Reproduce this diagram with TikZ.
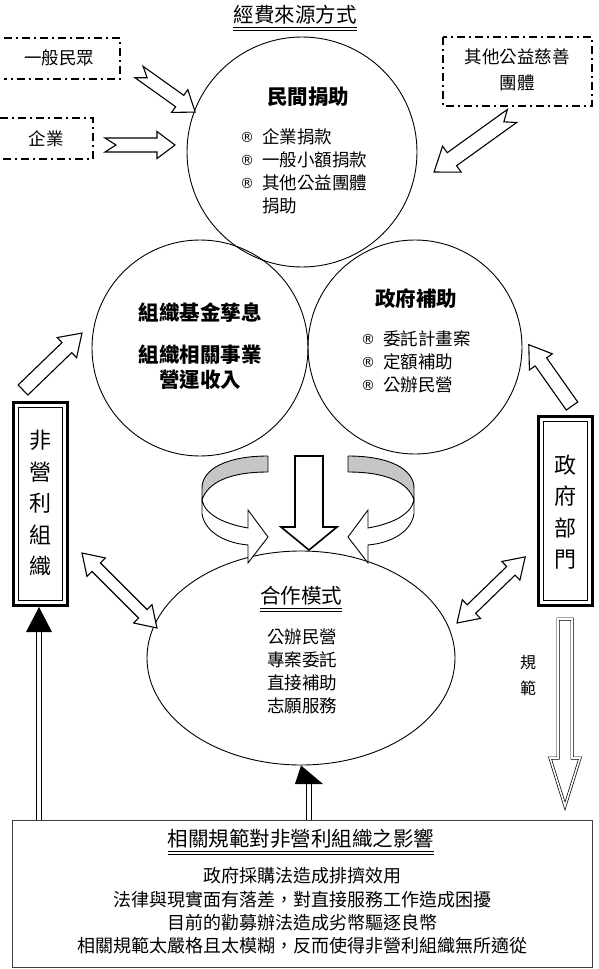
\documentclass[tikz,border=0pt]{standalone}
\usepackage{fontspec}
\setmainfont{Noto Sans CJK TC}
\newfontfamily\regfont{DejaVu Sans}
\usetikzlibrary{shapes.geometric}
\newcommand{\BlockArrow}[8]{% x,y,angle,L,w,h,hl,notch
  \draw[barrow,shift={(#1,#2)},rotate=#3] (0,-#5) -- ({#4-#7},-#5) -- ({#4-#7},-#6) -- (#4,0) -- ({#4-#7},#6) -- ({#4-#7},#5) -- (0,#5) -- (#8,0) -- cycle;}
\newcommand{\DoubleBlockArrow}[7]{% x,y,angle,L,w,h,hl
  \draw[barrow,shift={(#1,#2)},rotate=#3] (0,0) -- (#7,-#6) -- (#7,-#5) -- ({#4-#7},-#5) -- ({#4-#7},-#6) -- (#4,0) -- ({#4-#7},#6) -- ({#4-#7},#5) -- (#7,#5) -- (#7,#6) -- cycle;}
\newcommand{\regmark}{\makebox[22pt][l]{\raisebox{1pt}{\regfont\fontsize{14}{14}\selectfont ®}}}
\begin{document}
\begin{tikzpicture}[x=1pt,y=-1pt,
  barrow/.style={draw,line width=1.1pt,fill=white,line join=miter},
  t17/.style={inner sep=0pt,font=\fontsize{17.5}{23}\selectfont},
  t18/.style={inner sep=0pt,font=\fontsize{18}{23.3}\selectfont},
  t20/.style={inner sep=0pt,font=\fontsize{20.5}{24}\selectfont},
  tb20/.style={inner sep=0pt,font=\fontsize{20.5}{24}\selectfont\bfseries},
  vtxt/.style={inner sep=0pt,align=center,font=\fontsize{22}{31.5}\selectfont},
  dashbox/.style={line width=1.8pt,dash pattern=on 8pt off 4pt on 2pt off 4pt},
  circ/.style={circle,draw,line width=0.9pt,inner sep=0pt},
  uline/.style={line width=0.7pt},
  dbl/.style={double,double distance=3.2pt,line width=1pt}]
\useasboundingbox (0,0) rectangle (598,969);

% ---------- title ----------
\node[t20] (title) at (295,15) {經費來源方式};
\draw[uline] (title.west |- 0,27) -- (title.east |- 0,27);
\draw[uline] (title.west |- 0,30.5) -- (title.east |- 0,30.5);

% ---------- dashed source boxes ----------
\draw[dashbox] (4,38) -- (120,38) -- (120,79) -- (4,79);
\node[t17] (pub) at (59,58) {一般民眾};
\draw[dashbox] (0,118) -- (93,118) -- (93,159) -- (0,159);
\node[t17] (ent) at (46,139) {企業};
\draw[dashbox] (443,37) rectangle (592,106);
\node[t17,align=center,font=\fontsize{17.5}{26}\selectfont] (oth) at (517,70) {其他公益慈善\\團體};

% ---------- circles ----------
\node[circ,minimum size=230pt] (c1) at (302,152) {};
\node[circ,minimum size=216pt] (c2) at (200,348) {};
\node[circ,minimum size=214pt] (c3) at (415,347) {};
\node[ellipse,draw,line width=0.9pt,minimum width=308pt,minimum height=214pt,inner sep=0pt] (coop) at (301,658) {};

% circle 1 text
\node[tb20] (c1h) at (308,97) {民間捐助};
\node[t17,anchor=west] (c1a) at (240,137) {\regmark 企業捐款};
\node[t17,anchor=west] (c1b) at (240,160) {\regmark 一般小額捐款};
\node[t17,anchor=west] (c1c) at (240,183) {\regmark 其他公益團體};
\node[t17,anchor=west] (c1d) at (262,206) {捐助};

% circle 2 text
\node[tb20] (c2h) at (200,313) {組織基金孳息};
\node[tb20,align=center,font=\fontsize{20.5}{25.5}\selectfont\bfseries] (c2b) at (200,367) {組織相關事業\\營運收入};

% circle 3 text
\node[tb20] (c3h) at (416,299) {政府補助};
\node[t17,anchor=west] (c3a) at (361,339) {\regmark 委託計畫案};
\node[t17,anchor=west] (c3b) at (361,362) {\regmark 定額補助};
\node[t17,anchor=west] (c3c) at (361,385) {\regmark 公辦民營};

% ellipse text
\node[t20] (coh) at (301,596) {合作模式};
\draw[uline] (coh.west |- 0,608) -- (coh.east |- 0,608);
\draw[uline] (coh.west |- 0,611) -- (coh.east |- 0,611);
\node[t17,align=center] (coi) at (302,671) {公辦民營\\專案委託\\直接補助\\志願服務};

% ---------- side boxes ----------
\node[draw,line width=3pt,minimum width=54pt,minimum height=203pt,inner sep=0pt] (npo) at (40,503.5) {};
\node[draw,line width=0.8pt,minimum width=44pt,minimum height=193pt,inner sep=0pt] (npoin) at (40,503.5) {};
\node[vtxt] (npot) at (40,503) {非\\營\\利\\組\\織};

\node[draw,line width=3pt,minimum width=54pt,minimum height=189pt,inner sep=0pt] (gov) at (565,510.5) {};
\node[draw,line width=0.8pt,minimum width=44pt,minimum height=179pt,inner sep=0pt] (govin) at (565,510.5) {};
\node[vtxt] (govt) at (565,512) {政\\府\\部\\門};

% ---------- block arrows ----------
\BlockArrow{139}{72}{-35.5}{69}{7}{14}{19}{10}
\BlockArrow{105}{145}{0}{70}{7}{13.5}{18}{11}
\BlockArrow{512}{116}{-144.3}{96}{8}{16}{22}{10}
\BlockArrow{23}{390}{44}{82}{7}{14}{21}{0}
\BlockArrow{572}{406}{125.2}{75}{7}{14}{21}{0}
\DoubleBlockArrow{82}{553}{-45}{106}{6}{13}{20}
\DoubleBlockArrow{457}{623}{44.1}{95}{6}{13}{20}

% centre down arrow
\draw[draw,line width=1.6pt,fill=white,line join=miter] (295,456) -- (323,456) -- (323,527) -- (337,527) -- (309,550) -- (281,527) -- (295,527) -- cycle;

% curved arrows
\begin{scope}[line width=0.9pt]
\filldraw[fill=gray!45] (268,456) .. controls (225,456) and (202,470) .. (202,488) -- (202,500) .. controls (208,482) and (230,472) .. (268,472) -- cycle;
\filldraw[fill=white] (202,500) .. controls (205,515) and (225,524) .. (248,528) -- (248,510) -- (268,537) -- (248,563) -- (248,545) .. controls (225,543) and (205,532) .. (202,514) -- cycle;
\end{scope}
\begin{scope}[line width=0.9pt,shift={(616,0)},xscale=-1]
\filldraw[fill=gray!45] (268,456) .. controls (225,456) and (202,470) .. (202,488) -- (202,500) .. controls (208,482) and (230,472) .. (268,472) -- cycle;
\filldraw[fill=white] (202,500) .. controls (205,515) and (225,524) .. (248,528) -- (248,510) -- (268,537) -- (248,563) -- (248,545) .. controls (225,543) and (205,532) .. (202,514) -- cycle;
\end{scope}

% ---------- bottom box ----------
\node[draw,line width=1pt,draw=black!75,minimum width=580pt,minimum height=147pt,inner sep=0pt] (impact) at (302,893.5) {};
\node[t20] (imph) at (301,839) {相關規範對非營利組織之影響};
\draw[uline] (imph.west |- 0,851) -- (imph.east |- 0,851);
\draw[uline] (imph.west |- 0,854.5) -- (imph.east |- 0,854.5);
\node[t18,align=center] (impt) at (302,911) {政府採購法造成排擠效用\\法律與現實面有落差，對直接服務工作造成困擾\\目前的勸募辦法造成劣幣驅逐良幣\\相關規範太嚴格且太模糊，反而使得非營利組織無所適從};

% vertical arrows with filled heads
\coordinate (lh) at (39,632);
\draw[dbl] (impact.north -| lh) -- (lh);
\fill (39,607) -- (52,632) -- (26,632) -- cycle;
\coordinate (mh) at (309,784);
\draw[dbl] (impact.north -| mh) -- (mh);
\fill (coop.south) -- (323,784) -- (295,784) -- cycle;

% regulation arrow
\draw[double,double distance=1.6pt,line width=0.7pt,fill=white,line join=miter] (558,619) -- (572,619) -- (572,758) -- (580,758) -- (565,806) -- (550,758) -- (558,758) -- cycle;
\node[inner sep=0pt,align=center,font=\fontsize{16}{26}\selectfont] (reg) at (528,675) {規\\範};
\end{tikzpicture}
\end{document}
